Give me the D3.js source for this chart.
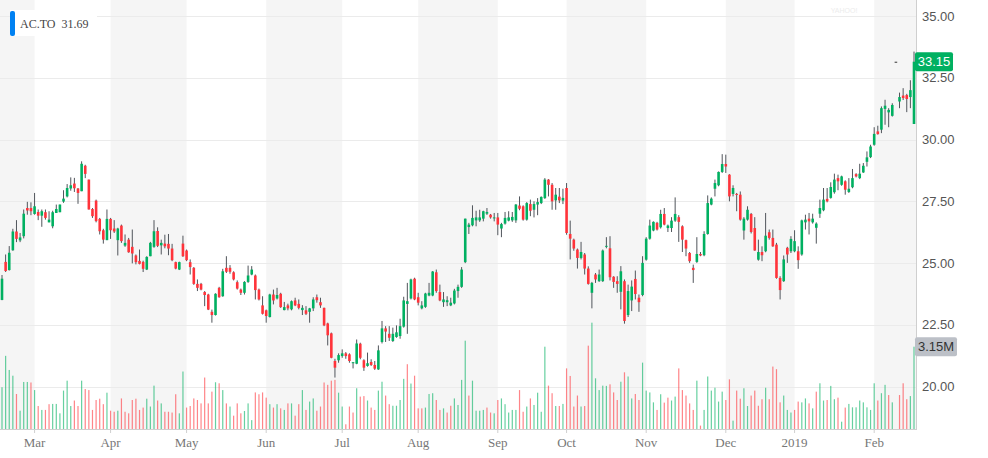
<!DOCTYPE html>
<html>
<head>
<meta charset="utf-8">
<script src="https://cdn.jsdelivr.net/npm/d3@7"></script>
<style>
body { margin: 0; background: #fff; }
text { font-family: "Liberation Sans", Arial, sans-serif; }
.serif { font-family: "Liberation Serif", "DejaVu Serif", serif; }
</style>
</head>
<body>
<svg id="chart" width="988" height="458"></svg>
<script>
///////  Data ///////

var symbol = "AC.TO";
var legendPrice = "31.69";
var startDay = "2018-02-15", endDay = "2019-02-19";
var holidays = ["2018-02-19", "2018-03-30", "2018-05-21", "2018-07-02", "2018-08-06", "2018-09-03",
                "2018-10-08", "2018-12-25", "2018-12-26", "2019-01-01", "2019-02-18"];
var priceTicks = [20, 22.5, 25, 27.5, 30, 32.5, 35];

var opens = [
23.51,25.05,24.72,25.52,26.28,25.92,26.09,27.23,27.23,26.99,
27.07,26.92,27.06,26.65,26.49,27.03,27.06,27.49,27.70,28.02,
28.22,28.02,27.91,28.94,28.38,27.19,27.53,26.79,26.33,25.93,
26.79,26.40,25.93,26.52,25.71,25.95,25.66,25.31,25.09,25.05,
24.74,25.28,25.66,26.30,25.72,25.79,25.78,25.59,25.04,24.74,
25.79,25.51,25.04,24.81,24.16,24.16,23.83,23.73,23.03,22.90,
24.00,23.66,24.81,24.81,24.63,24.23,23.93,23.80,24.24,24.54,
24.50,23.93,23.29,23.09,22.82,23.73,23.57,23.76,23.10,23.29,
23.13,23.49,23.35,23.10,23.09,23.03,23.17,23.62,23.42,23.19,
22.56,22.16,21.04,21.07,21.24,21.35,21.31,20.97,20.93,21.74,
21.07,20.84,21.00,20.88,20.70,21.81,22.36,22.14,21.85,22.01,
22.05,22.43,23.35,23.57,24.37,23.62,23.17,23.23,23.69,23.69,
24.63,23.83,23.42,23.42,23.29,23.37,23.87,24.04,25.04,26.46,
26.53,26.73,26.73,26.80,27.00,26.96,26.82,26.85,26.40,26.60,
26.72,26.73,26.73,27.33,27.30,26.76,27.39,27.16,27.37,27.43,
27.63,28.38,28.17,27.54,27.69,27.53,28.04,26.18,25.95,25.55,
25.21,25.35,24.78,23.80,24.54,24.27,24.27,25.66,25.60,24.45,
24.27,23.84,24.27,22.90,23.49,24.36,23.60,23.71,25.14,25.99,
26.32,26.63,26.45,26.99,26.42,26.42,26.72,26.86,26.49,25.93,
25.41,24.81,25.05,25.37,25.32,26.18,27.37,28.01,28.15,28.69,
29.01,28.58,27.80,27.80,27.77,26.32,26.76,26.99,26.42,25.14,
25.45,25.48,26.25,26.02,25.75,24.40,24.27,25.62,25.48,25.48,
25.48,25.35,26.65,26.80,26.65,26.43,27.00,27.14,27.60,27.64,
27.87,28.44,28.17,28.31,27.88,28.07,28.60,28.44,28.67,29.10,
29.29,29.79,30.33,30.40,31.24,31.10,30.96,33.15,31.54,31.78,
31.80,31.72,30.63];

var highs = [
24.52,25.35,25.69,26.39,26.74,26.22,27.17,27.48,27.46,27.84,
27.17,27.17,27.17,27.10,27.12,27.37,27.37,27.95,28.20,28.47,
28.45,28.04,29.12,28.98,28.38,27.23,27.57,26.83,26.39,27.17,
26.83,26.74,26.43,26.56,26.16,26.02,26.36,25.35,25.55,25.10,
25.28,25.86,26.74,26.45,25.95,26.15,26.18,25.78,25.06,25.06,
26.11,25.55,25.15,24.84,24.34,24.20,23.87,23.76,23.12,23.78,
24.04,24.77,25.28,24.92,24.67,24.30,23.97,24.27,24.90,24.88,
24.54,23.97,23.66,23.12,23.76,23.93,24.00,23.80,23.43,23.36,
23.49,23.60,23.53,23.30,23.26,23.19,23.62,23.73,23.60,23.20,
22.59,22.19,21.13,21.35,21.51,21.40,21.35,21.00,21.91,21.78,
21.11,21.38,21.11,21.04,21.67,22.66,22.45,22.45,22.39,22.48,
22.75,23.64,24.20,24.37,24.41,23.80,23.46,23.80,24.20,24.68,
24.74,24.13,23.83,23.66,23.60,23.96,24.13,24.84,26.80,26.63,
27.34,27.12,27.16,27.12,27.23,26.99,27.03,27.03,26.63,27.07,
27.10,27.07,27.39,27.70,27.34,27.47,27.57,27.50,27.63,27.70,
28.44,28.40,28.24,28.04,28.04,28.01,28.24,26.72,25.99,25.59,
25.86,25.41,24.87,24.24,24.60,24.74,25.55,26.05,26.09,24.47,
24.47,24.88,24.34,24.13,24.30,24.70,23.73,25.28,26.05,26.76,
26.69,26.67,27.16,27.23,26.56,26.86,27.66,26.94,26.53,25.95,
25.45,24.94,26.05,25.45,26.29,27.74,27.66,28.38,28.71,29.41,
29.39,28.60,28.15,27.84,27.90,26.86,27.30,27.03,26.86,25.95,
25.68,27.03,26.36,26.36,25.82,24.47,25.31,25.66,26.09,26.33,
25.68,26.76,26.96,27.03,27.00,26.65,27.57,28.04,28.04,28.27,
28.62,28.58,28.54,28.35,28.44,28.81,28.64,29.02,29.05,29.52,
29.79,30.50,30.56,31.34,31.61,31.27,31.47,33.15,31.90,32.08,
31.85,32.40,33.56];

var lows = [
23.50,24.64,24.70,25.50,25.85,25.85,26.00,26.96,26.94,26.96,
26.74,26.47,26.76,26.65,26.41,27.03,27.06,27.44,27.66,27.93,
27.88,27.40,27.91,28.44,27.17,26.83,26.65,26.16,25.79,25.93,
25.98,26.22,25.31,25.82,25.66,25.42,24.99,24.95,24.95,24.64,
24.72,25.28,25.62,25.65,25.35,25.60,25.32,25.08,24.75,24.72,
25.25,25.08,24.54,24.12,23.87,23.90,23.26,23.10,22.59,22.88,
23.60,23.64,24.60,24.57,24.30,23.93,23.71,23.73,24.20,24.51,
23.53,23.49,22.92,22.59,22.80,23.33,23.53,23.19,23.09,23.09,
23.09,23.26,23.13,22.90,22.90,22.59,23.06,23.40,23.19,22.45,
21.67,21.15,20.37,20.97,21.17,21.13,20.97,20.74,20.91,21.11,
20.64,20.81,20.84,20.68,20.68,21.75,21.81,21.85,21.81,21.98,
21.94,22.39,22.14,23.53,23.50,23.29,23.13,23.19,23.66,23.66,
23.80,23.46,23.23,23.26,23.26,23.33,23.60,24.00,25.00,26.18,
26.49,26.49,26.67,26.69,26.95,26.80,26.69,26.13,26.05,26.56,
26.69,26.67,26.63,27.14,26.72,26.72,26.90,26.85,26.94,27.39,
27.60,27.70,27.16,27.16,27.43,27.39,26.15,25.15,25.50,24.78,
25.15,24.54,24.13,23.17,24.20,24.24,24.24,25.60,24.30,24.00,
23.80,23.13,22.55,22.82,23.06,23.53,23.03,23.66,25.10,25.95,
26.29,26.32,26.40,26.53,26.26,26.26,26.67,25.86,25.45,25.28,
25.01,24.20,25.01,25.28,25.28,26.15,27.34,27.70,28.11,28.65,
28.65,27.50,27.70,27.10,26.72,25.95,26.72,26.20,25.50,25.10,
25.08,25.44,25.95,25.66,24.37,23.53,24.24,25.01,25.41,25.44,
24.77,25.30,26.36,26.16,26.60,25.79,26.83,27.10,27.46,27.61,
27.81,27.95,28.13,27.77,27.84,28.03,28.47,28.40,28.65,28.91,
29.25,29.75,30.20,30.26,30.60,30.50,30.93,33.15,31.27,31.60,
31.11,31.27,30.63];

var closes = [
24.37,24.68,25.42,26.28,25.98,26.04,27.00,27.13,27.10,27.30,
26.92,27.10,26.83,26.76,27.06,27.19,27.37,27.61,28.04,28.15,
28.03,27.84,29.02,28.61,27.17,26.90,26.70,26.29,25.95,26.79,
26.33,26.28,26.40,25.89,25.82,25.44,25.39,25.04,24.97,24.77,
25.25,25.82,26.29,25.70,25.82,25.68,25.59,25.12,24.78,25.04,
25.28,25.12,24.84,24.16,24.00,23.93,23.71,23.12,22.90,23.76,
23.62,24.67,24.65,24.65,24.34,23.97,23.80,24.24,24.50,24.74,
23.91,23.53,22.95,22.86,23.73,23.49,23.71,23.22,23.22,23.17,
23.46,23.29,23.19,23.19,22.95,23.17,23.53,23.50,23.29,22.48,
22.08,21.17,20.77,21.28,21.35,21.24,21.04,20.99,21.75,21.17,
20.77,20.95,20.88,20.73,21.47,22.36,22.23,21.98,22.14,22.20,
22.45,23.49,23.46,24.34,23.53,23.40,23.29,23.77,23.80,24.66,
23.87,23.49,23.53,23.50,23.40,23.89,24.04,24.74,26.80,26.56,
26.83,26.85,26.85,27.10,27.07,26.85,26.85,26.56,26.58,26.83,
26.85,26.87,27.37,27.20,26.76,27.43,27.12,27.39,27.47,27.68,
28.38,28.17,27.50,27.77,27.54,27.64,26.22,25.99,25.59,25.21,
25.45,24.78,24.16,24.20,24.34,24.54,25.51,25.70,24.43,24.24,
24.16,24.67,22.66,23.87,24.05,23.75,23.42,25.01,25.99,26.52,
26.67,26.36,26.99,26.56,26.52,26.72,26.99,26.67,25.95,25.59,
25.08,24.72,25.37,25.31,26.18,27.43,27.61,28.24,28.69,29.01,
28.91,27.70,28.04,27.77,26.76,26.80,27.16,26.26,25.51,25.45,
25.32,26.11,26.02,25.68,24.40,23.91,25.15,25.35,25.98,25.89,
25.12,26.73,26.76,26.69,26.80,26.60,27.23,27.57,27.50,28.08,
28.38,28.31,28.51,27.97,28.01,28.44,28.51,28.62,28.94,29.28,
29.72,30.23,30.22,31.27,31.37,31.20,31.40,33.15,31.72,31.68,
31.64,32.00,33.15];

// volume in millions of shares
var volumes = [
1.60,2.80,2.26,2.04,1.34,0.70,1.80,1.80,1.78,1.49,
0.88,0.73,0.73,0.95,0.96,0.96,0.60,1.47,1.85,0.88,
1.09,0.88,1.85,1.53,1.49,0.73,1.11,1.16,0.95,1.39,
0.70,0.66,0.70,1.17,0.66,0.60,1.11,1.16,0.73,0.82,
1.16,0.86,1.66,1.09,0.98,0.66,0.66,0.63,1.33,0.60,
2.20,0.82,0.88,1.17,1.11,0.98,1.97,0.98,1.43,1.79,
1.75,1.49,0.98,0.86,0.51,0.98,0.60,0.69,0.98,0.34,
1.40,1.33,1.40,1.20,0.95,0.82,0.95,0.79,0.73,0.98,
0.98,0.51,0.95,1.49,0.73,1.05,1.17,0.70,0.86,1.78,
1.69,1.85,1.88,1.39,0.86,0.18,0.86,0.63,1.56,1.24,
1.26,1.09,0.82,0.73,1.47,1.81,1.28,0.95,0.89,0.89,
1.11,1.92,2.48,1.74,2.04,0.79,0.79,0.82,1.34,1.37,
1.11,0.73,0.79,0.63,0.89,1.17,0.92,1.88,3.38,1.28,
1.85,0.70,0.70,0.73,0.82,0.63,0.60,1.11,1.17,0.95,
0.63,0.73,0.73,1.49,0.66,0.86,1.17,0.92,1.39,0.66,
3.15,1.66,1.37,0.88,0.88,0.96,2.32,2.03,0.86,1.28,
0.86,0.88,3.19,4.07,1.94,1.49,1.66,1.65,1.71,1.40,
1.11,1.81,2.17,2.01,1.17,1.34,1.11,2.54,1.47,1.40,
1.02,0.73,1.33,1.01,1.20,1.09,1.24,2.32,1.49,1.28,
0.98,0.73,1.85,0.13,0.73,2.01,1.47,1.58,1.05,1.43,
1.11,1.90,0.32,1.47,1.16,1.56,0.88,1.28,1.47,0.89,
1.14,1.58,1.14,2.39,2.29,1.02,1.28,0.73,0.63,0.73,
1.05,1.02,1.17,0.98,0.79,1.43,1.75,1.09,1.11,1.65,
1.14,1.20,0.28,0.82,0.96,0.83,0.83,1.09,1.02,0.83,
0.73,1.75,1.09,1.37,1.69,1.30,1.02,0,1.30,1.75,
1.14,1.26,3.15];

///////  Setup ///////

var upColor = "#00b061", downColor = "#ff333a", wickColor = "#50555b";
var svg = d3.select("#chart");
var plotRight = 916, plotBottom = 429;

var parseDay = d3.timeParse("%Y-%m-%d");
var fmtDay = d3.timeFormat("%Y-%m-%d");

// trading days: weekdays without TSX holidays
var days = d3.timeDay.range(parseDay(startDay), d3.timeDay.offset(parseDay(endDay), 1))
    .filter(function(d) {
        return d.getDay() != 0 && d.getDay() != 6 && holidays.indexOf(fmtDay(d)) < 0;
    });

var n = Math.min(days.length, closes.length);
var data = d3.range(n).map(function(i) {
    return {i: i, date: days[i], open: opens[i], high: highs[i], low: lows[i],
            close: closes[i], volume: volumes[i], prev: i > 0 ? closes[i - 1] : opens[i]};
});

var x = d3.scalePoint().domain(d3.range(n)).range([2, 914]);
var y = d3.scaleLinear().domain([20, 35]).range([386.7, 16]);
var yv = d3.scaleLinear().domain([0, 3.15]).range([plotBottom, 346.7]);

// month groups
var months = [];
data.forEach(function(d) {
    var key = d.date.getFullYear() * 12 + d.date.getMonth();
    if (!months.length || months[months.length - 1].key != key)
        months.push({key: key, start: d.i, date: d.date});
});
months.forEach(function(m, k) {
    m.x0 = k == 0 ? 0 : x(m.start);
    m.x1 = k == months.length - 1 ? plotRight : x(months[k + 1].start);
});

///////  Background ///////

svg.append("g").selectAll("rect")
    .data(months.filter(function(m) { return m.date.getMonth() % 2 == 1; }))
    .enter().append("rect")
    .attr("x", function(m) { return m.x0; })
    .attr("y", 0)
    .attr("width", function(m) { return m.x1 - m.x0; })
    .attr("height", plotBottom)
    .attr("fill", "#f5f5f5");

svg.append("g").selectAll("line")
    .data(priceTicks)
    .enter().append("line")
    .attr("x1", 0).attr("x2", plotRight)
    .attr("y1", function(t) { return Math.round(y(t)) + 0.5; })
    .attr("y2", function(t) { return Math.round(y(t)) + 0.5; })
    .attr("stroke", "#ebebeb");

svg.append("text")
    .attr("x", 844).attr("y", 13)
    .attr("text-anchor", "middle")
    .attr("font-size", "7px")
    .attr("fill", "#ececec")
    .text("YAHOO!");

///////  Volume ///////

svg.append("g").selectAll("rect")
    .data(data.filter(function(d) { return d.volume > 0; }))
    .enter().append("rect")
    .attr("x", function(d) { return x(d.i) - 0.6; })
    .attr("y", function(d) { return yv(d.volume); })
    .attr("width", 1.2)
    .attr("height", function(d) { return plotBottom - yv(d.volume); })
    .attr("fill", function(d) { return d.close >= d.prev ? upColor : downColor; })
    .attr("fill-opacity", 0.6);

///////  Candles ///////

var candles = svg.append("g").selectAll("g")
    .data(data)
    .enter().append("g");

candles.append("line")
    .attr("x1", function(d) { return x(d.i); })
    .attr("x2", function(d) { return x(d.i); })
    .attr("y1", function(d) { return y(d.high); })
    .attr("y2", function(d) { return y(d.low); })
    .attr("stroke", wickColor)
    .attr("stroke-width", 1);

candles.append("rect")
    .attr("x", function(d) { return x(d.i) - 1.3; })
    .attr("y", function(d) { return y(Math.max(d.open, d.close)); })
    .attr("width", 2.6)
    .attr("height", function(d) { return Math.max(1, Math.abs(y(d.open) - y(d.close))); })
    .attr("fill", function(d) {
        if (d.open == d.close) return "#333";
        return d.close > d.open ? upColor : downColor;
    });

///////  Axes ///////

svg.append("line")
    .attr("x1", plotRight + 0.5).attr("x2", plotRight + 0.5)
    .attr("y1", 0).attr("y2", plotBottom + 1)
    .attr("stroke", "#cfcfcf");

svg.append("line")
    .attr("x1", 0).attr("x2", plotRight)
    .attr("y1", plotBottom + 0.5).attr("y2", plotBottom + 0.5)
    .attr("stroke", "#cfcfcf");

svg.append("g").selectAll("text")
    .data(priceTicks)
    .enter().append("text")
    .attr("x", 922)
    .attr("y", function(t) { return y(t) + 4.5; })
    .attr("font-size", "13px")
    .attr("fill", "#555")
    .text(d3.format(".2f"));

var monthTicks = months.slice(1);
var fmtMonth = d3.timeFormat("%b"), fmtYear = d3.timeFormat("%Y");

svg.append("g").selectAll("line")
    .data(monthTicks)
    .enter().append("line")
    .attr("x1", function(m) { return x(m.start); })
    .attr("x2", function(m) { return x(m.start); })
    .attr("y1", plotBottom + 1).attr("y2", plotBottom + 4)
    .attr("stroke", "#cfcfcf");

svg.append("g").selectAll("text")
    .data(monthTicks)
    .enter().append("text")
    .attr("class", "serif")
    .attr("x", function(m) { return x(m.start); })
    .attr("y", 447)
    .attr("text-anchor", "middle")
    .attr("font-size", "13px")
    .attr("fill", "#777")
    .text(function(m) { return m.date.getMonth() == 0 ? fmtYear(m.date) : fmtMonth(m.date); });

///////  Legend and badges ///////

svg.append("rect")
    .attr("x", 10).attr("y", 10).attr("width", 87).attr("height", 26)
    .attr("fill", "#fff");
svg.append("rect")
    .attr("x", 10).attr("y", 11).attr("width", 5).attr("height", 25)
    .attr("rx", 2)
    .attr("fill", "#0081f2");
svg.append("text")
    .attr("class", "serif")
    .attr("x", 20).attr("y", 28)
    .attr("font-size", "12px")
    .attr("fill", "#444")
    .attr("xml:space", "preserve")
    .text(symbol + "  " + legendPrice);

var last = data[n - 1];

svg.append("rect")
    .attr("x", plotRight - 1).attr("y", y(last.close) - 9.5)
    .attr("width", 38).attr("height", 19).attr("rx", 2)
    .attr("fill", upColor);
svg.append("text")
    .attr("x", plotRight + 18).attr("y", y(last.close) + 4.5)
    .attr("text-anchor", "middle")
    .attr("font-size", "13px")
    .attr("fill", "#fff")
    .text(last.close.toFixed(2));

svg.append("rect")
    .attr("x", plotRight - 1).attr("y", yv(last.volume) - 9.5)
    .attr("width", 42).attr("height", 19).attr("rx", 2)
    .attr("fill", "#bcc0c7");
svg.append("text")
    .attr("x", plotRight + 20).attr("y", yv(last.volume) + 4.5)
    .attr("text-anchor", "middle")
    .attr("font-size", "13px")
    .attr("fill", "#333")
    .text(last.volume.toFixed(2) + "M");
</script>
</body>
</html>
